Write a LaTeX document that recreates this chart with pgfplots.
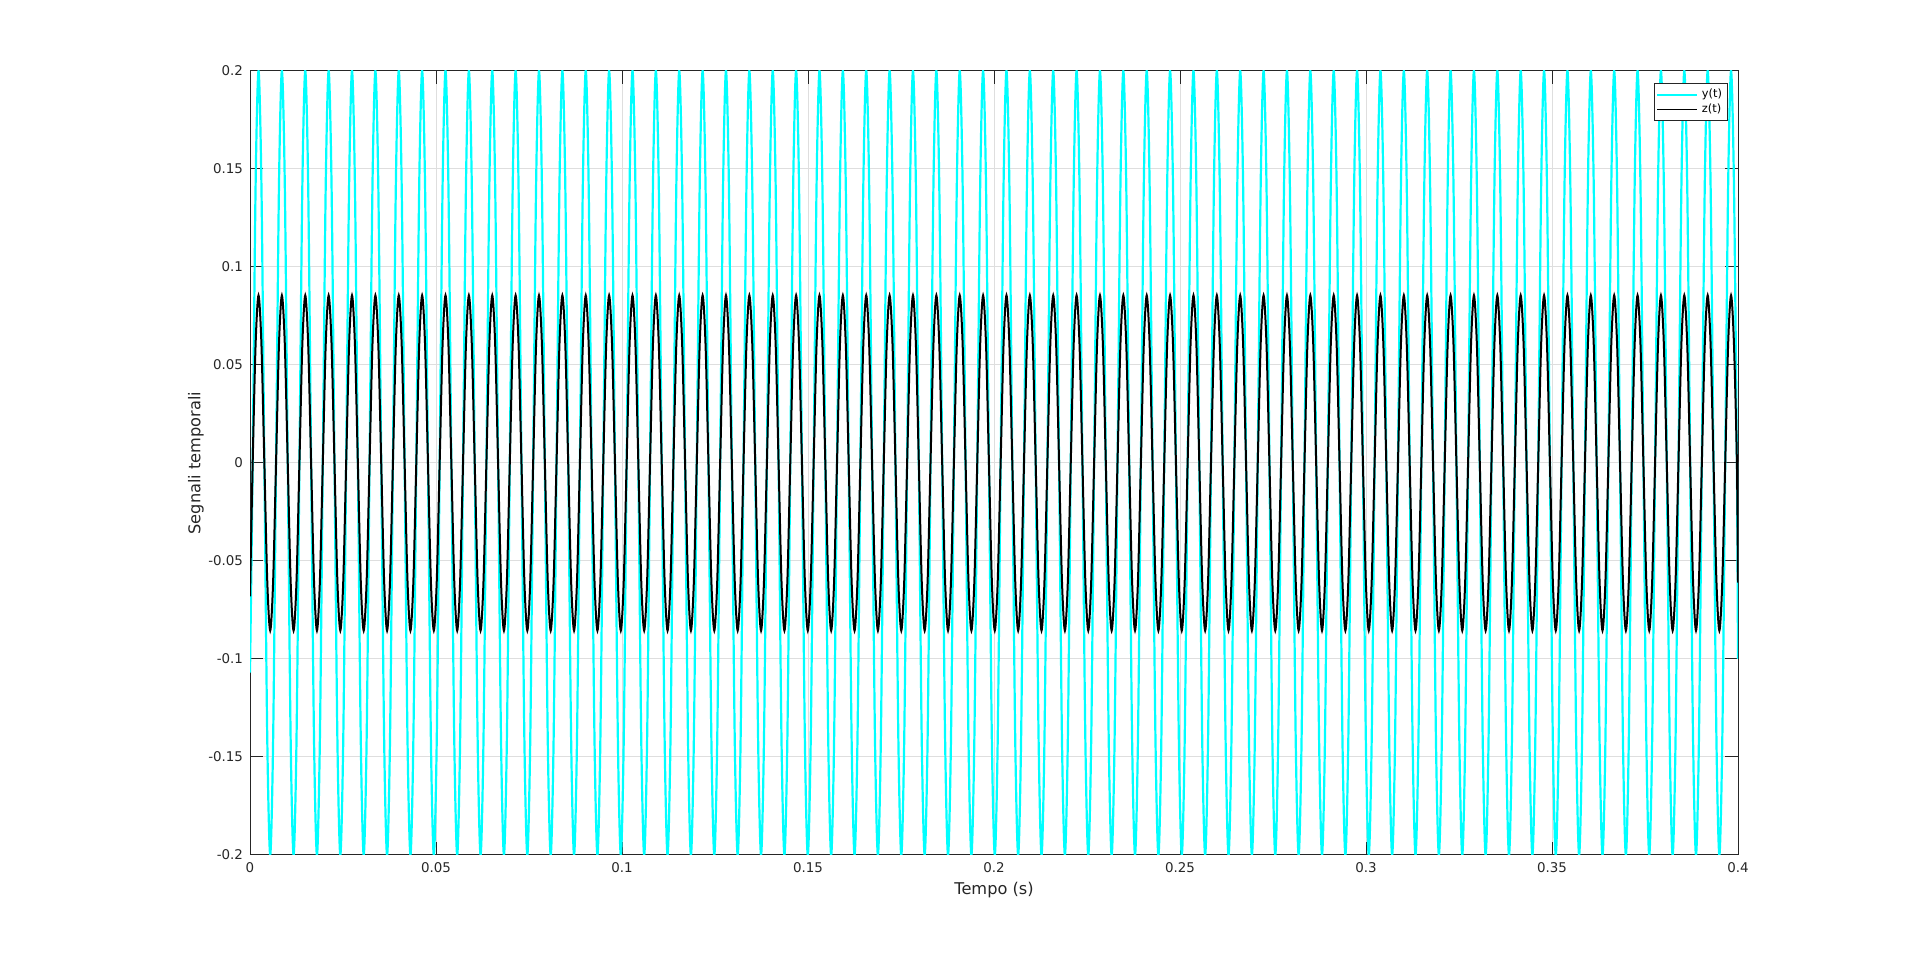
\documentclass[border=0pt]{standalone}
\usepackage{fontspec}
\setmainfont{DejaVu Sans}
\usepackage{pgfplots}
\usepackage{pgfplotstable}
\pgfplotsset{compat=1.18}
\definecolor{mcyan}{rgb}{0,1,1}
\definecolor{gridc}{rgb}{0.87,0.87,0.87}
\definecolor{axc}{rgb}{0.15,0.15,0.15}
\pgfplotstableread[row sep=\\]{
t y z\\
0 -0.107 -0.068\\
0.000719 0 0\\ 0.001505 0.1414 0.0605\\ 0.002290 0.2 0.0855\\ 0.003075 0.1414 0.0605\\ 0.003861 0 0\\ 0.004646 -0.1414 -0.0605\\ 0.005432 -0.2 -0.0855\\ 0.006217 -0.1414 -0.0605\\
0.007002 0 0\\ 0.007788 0.1414 0.0605\\ 0.008573 0.2 0.0855\\ 0.009359 0.1414 0.0605\\ 0.010144 0 0\\ 0.010929 -0.1414 -0.0605\\ 0.011715 -0.2 -0.0855\\ 0.012500 -0.1414 -0.0605\\
0.013286 0 0\\ 0.014071 0.1414 0.0605\\ 0.014856 0.2 0.0855\\ 0.015642 0.1414 0.0605\\ 0.016427 0 0\\ 0.017213 -0.1414 -0.0605\\ 0.017998 -0.2 -0.0855\\ 0.018783 -0.1414 -0.0605\\
0.019569 0 0\\ 0.020354 0.1414 0.0605\\ 0.021140 0.2 0.0855\\ 0.021925 0.1414 0.0605\\ 0.022710 0 0\\ 0.023496 -0.1414 -0.0605\\ 0.024281 -0.2 -0.0855\\ 0.025067 -0.1414 -0.0605\\
0.025852 0 0\\ 0.026637 0.1414 0.0605\\ 0.027423 0.2 0.0855\\ 0.028208 0.1414 0.0605\\ 0.028994 0 0\\ 0.029779 -0.1414 -0.0605\\ 0.030564 -0.2 -0.0855\\ 0.031350 -0.1414 -0.0605\\
0.032135 0 0\\ 0.032921 0.1414 0.0605\\ 0.033706 0.2 0.0855\\ 0.034491 0.1414 0.0605\\ 0.035277 0 0\\ 0.036062 -0.1414 -0.0605\\ 0.036848 -0.2 -0.0855\\ 0.037633 -0.1414 -0.0605\\
0.038418 0 0\\ 0.039204 0.1414 0.0605\\ 0.039989 0.2 0.0855\\ 0.040775 0.1414 0.0605\\ 0.041560 0 0\\ 0.042345 -0.1414 -0.0605\\ 0.043131 -0.2 -0.0855\\ 0.043916 -0.1414 -0.0605\\
0.044702 0 0\\ 0.045487 0.1414 0.0605\\ 0.046272 0.2 0.0855\\ 0.047058 0.1414 0.0605\\ 0.047843 0 0\\ 0.048629 -0.1414 -0.0605\\ 0.049414 -0.2 -0.0855\\ 0.050199 -0.1414 -0.0605\\
0.050985 0 0\\ 0.051770 0.1414 0.0605\\ 0.052556 0.2 0.0855\\ 0.053341 0.1414 0.0605\\ 0.054126 0 0\\ 0.054912 -0.1414 -0.0605\\ 0.055697 -0.2 -0.0855\\ 0.056483 -0.1414 -0.0605\\
0.057268 0 0\\ 0.058053 0.1414 0.0605\\ 0.058839 0.2 0.0855\\ 0.059624 0.1414 0.0605\\ 0.060410 0 0\\ 0.061195 -0.1414 -0.0605\\ 0.061980 -0.2 -0.0855\\ 0.062766 -0.1414 -0.0605\\
0.063551 0 0\\ 0.064337 0.1414 0.0605\\ 0.065122 0.2 0.0855\\ 0.065907 0.1414 0.0605\\ 0.066693 0 0\\ 0.067478 -0.1414 -0.0605\\ 0.068264 -0.2 -0.0855\\ 0.069049 -0.1414 -0.0605\\
0.069834 0 0\\ 0.070620 0.1414 0.0605\\ 0.071405 0.2 0.0855\\ 0.072191 0.1414 0.0605\\ 0.072976 0 0\\ 0.073761 -0.1414 -0.0605\\ 0.074547 -0.2 -0.0855\\ 0.075332 -0.1414 -0.0605\\
0.076118 0 0\\ 0.076903 0.1414 0.0605\\ 0.077688 0.2 0.0855\\ 0.078474 0.1414 0.0605\\ 0.079259 0 0\\ 0.080045 -0.1414 -0.0605\\ 0.080830 -0.2 -0.0855\\ 0.081615 -0.1414 -0.0605\\
0.082401 0 0\\ 0.083186 0.1414 0.0605\\ 0.083972 0.2 0.0855\\ 0.084757 0.1414 0.0605\\ 0.085542 0 0\\ 0.086328 -0.1414 -0.0605\\ 0.087113 -0.2 -0.0855\\ 0.087899 -0.1414 -0.0605\\
0.088684 0 0\\ 0.089469 0.1414 0.0605\\ 0.090255 0.2 0.0855\\ 0.091040 0.1414 0.0605\\ 0.091826 0 0\\ 0.092611 -0.1414 -0.0605\\ 0.093396 -0.2 -0.0855\\ 0.094182 -0.1414 -0.0605\\
0.094967 0 0\\ 0.095753 0.1414 0.0605\\ 0.096538 0.2 0.0855\\ 0.097323 0.1414 0.0605\\ 0.098109 0 0\\ 0.098894 -0.1414 -0.0605\\ 0.099680 -0.2 -0.0855\\ 0.100465 -0.1414 -0.0605\\
0.101250 0 0\\ 0.102036 0.1414 0.0605\\ 0.102821 0.2 0.0855\\ 0.103607 0.1414 0.0605\\ 0.104392 0 0\\ 0.105177 -0.1414 -0.0605\\ 0.105963 -0.2 -0.0855\\ 0.106748 -0.1414 -0.0605\\
0.107534 0 0\\ 0.108319 0.1414 0.0605\\ 0.109104 0.2 0.0855\\ 0.109890 0.1414 0.0605\\ 0.110675 0 0\\ 0.111461 -0.1414 -0.0605\\ 0.112246 -0.2 -0.0855\\ 0.113031 -0.1414 -0.0605\\
0.113817 0 0\\ 0.114602 0.1414 0.0605\\ 0.115388 0.2 0.0855\\ 0.116173 0.1414 0.0605\\ 0.116958 0 0\\ 0.117744 -0.1414 -0.0605\\ 0.118529 -0.2 -0.0855\\ 0.119315 -0.1414 -0.0605\\
0.120100 0 0\\ 0.120885 0.1414 0.0605\\ 0.121671 0.2 0.0855\\ 0.122456 0.1414 0.0605\\ 0.123242 0 0\\ 0.124027 -0.1414 -0.0605\\ 0.124812 -0.2 -0.0855\\ 0.125598 -0.1414 -0.0605\\
0.126383 0 0\\ 0.127169 0.1414 0.0605\\ 0.127954 0.2 0.0855\\ 0.128739 0.1414 0.0605\\ 0.129525 0 0\\ 0.130310 -0.1414 -0.0605\\ 0.131096 -0.2 -0.0855\\ 0.131881 -0.1414 -0.0605\\
0.132666 0 0\\ 0.133452 0.1414 0.0605\\ 0.134237 0.2 0.0855\\ 0.135023 0.1414 0.0605\\ 0.135808 0 0\\ 0.136593 -0.1414 -0.0605\\ 0.137379 -0.2 -0.0855\\ 0.138164 -0.1414 -0.0605\\
0.138950 0 0\\ 0.139735 0.1414 0.0605\\ 0.140520 0.2 0.0855\\ 0.141306 0.1414 0.0605\\ 0.142091 0 0\\ 0.142877 -0.1414 -0.0605\\ 0.143662 -0.2 -0.0855\\ 0.144447 -0.1414 -0.0605\\
0.145233 0 0\\ 0.146018 0.1414 0.0605\\ 0.146804 0.2 0.0855\\ 0.147589 0.1414 0.0605\\ 0.148374 0 0\\ 0.149160 -0.1414 -0.0605\\ 0.149945 -0.2 -0.0855\\ 0.150731 -0.1414 -0.0605\\
0.151516 0 0\\ 0.152301 0.1414 0.0605\\ 0.153087 0.2 0.0855\\ 0.153872 0.1414 0.0605\\ 0.154658 0 0\\ 0.155443 -0.1414 -0.0605\\ 0.156228 -0.2 -0.0855\\ 0.157014 -0.1414 -0.0605\\
0.157799 0 0\\ 0.158585 0.1414 0.0605\\ 0.159370 0.2 0.0855\\ 0.160155 0.1414 0.0605\\ 0.160941 0 0\\ 0.161726 -0.1414 -0.0605\\ 0.162512 -0.2 -0.0855\\ 0.163297 -0.1414 -0.0605\\
0.164082 0 0\\ 0.164868 0.1414 0.0605\\ 0.165653 0.2 0.0855\\ 0.166439 0.1414 0.0605\\ 0.167224 0 0\\ 0.168009 -0.1414 -0.0605\\ 0.168795 -0.2 -0.0855\\ 0.169580 -0.1414 -0.0605\\
0.170366 0 0\\ 0.171151 0.1414 0.0605\\ 0.171936 0.2 0.0855\\ 0.172722 0.1414 0.0605\\ 0.173507 0 0\\ 0.174293 -0.1414 -0.0605\\ 0.175078 -0.2 -0.0855\\ 0.175863 -0.1414 -0.0605\\
0.176649 0 0\\ 0.177434 0.1414 0.0605\\ 0.178220 0.2 0.0855\\ 0.179005 0.1414 0.0605\\ 0.179790 0 0\\ 0.180576 -0.1414 -0.0605\\ 0.181361 -0.2 -0.0855\\ 0.182147 -0.1414 -0.0605\\
0.182932 0 0\\ 0.183717 0.1414 0.0605\\ 0.184503 0.2 0.0855\\ 0.185288 0.1414 0.0605\\ 0.186074 0 0\\ 0.186859 -0.1414 -0.0605\\ 0.187644 -0.2 -0.0855\\ 0.188430 -0.1414 -0.0605\\
0.189215 0 0\\ 0.190001 0.1414 0.0605\\ 0.190786 0.2 0.0855\\ 0.191571 0.1414 0.0605\\ 0.192357 0 0\\ 0.193142 -0.1414 -0.0605\\ 0.193928 -0.2 -0.0855\\ 0.194713 -0.1414 -0.0605\\
0.195498 0 0\\ 0.196284 0.1414 0.0605\\ 0.197069 0.2 0.0855\\ 0.197855 0.1414 0.0605\\ 0.198640 0 0\\ 0.199425 -0.1414 -0.0605\\ 0.200211 -0.2 -0.0855\\ 0.200996 -0.1414 -0.0605\\
0.201782 0 0\\ 0.202567 0.1414 0.0605\\ 0.203352 0.2 0.0855\\ 0.204138 0.1414 0.0605\\ 0.204923 0 0\\ 0.205709 -0.1414 -0.0605\\ 0.206494 -0.2 -0.0855\\ 0.207279 -0.1414 -0.0605\\
0.208065 0 0\\ 0.208850 0.1414 0.0605\\ 0.209636 0.2 0.0855\\ 0.210421 0.1414 0.0605\\ 0.211206 0 0\\ 0.211992 -0.1414 -0.0605\\ 0.212777 -0.2 -0.0855\\ 0.213563 -0.1414 -0.0605\\
0.214348 0 0\\ 0.215133 0.1414 0.0605\\ 0.215919 0.2 0.0855\\ 0.216704 0.1414 0.0605\\ 0.217490 0 0\\ 0.218275 -0.1414 -0.0605\\ 0.219060 -0.2 -0.0855\\ 0.219846 -0.1414 -0.0605\\
0.220631 0 0\\ 0.221417 0.1414 0.0605\\ 0.222202 0.2 0.0855\\ 0.222987 0.1414 0.0605\\ 0.223773 0 0\\ 0.224558 -0.1414 -0.0605\\ 0.225344 -0.2 -0.0855\\ 0.226129 -0.1414 -0.0605\\
0.226914 0 0\\ 0.227700 0.1414 0.0605\\ 0.228485 0.2 0.0855\\ 0.229271 0.1414 0.0605\\ 0.230056 0 0\\ 0.230841 -0.1414 -0.0605\\ 0.231627 -0.2 -0.0855\\ 0.232412 -0.1414 -0.0605\\
0.233198 0 0\\ 0.233983 0.1414 0.0605\\ 0.234768 0.2 0.0855\\ 0.235554 0.1414 0.0605\\ 0.236339 0 0\\ 0.237125 -0.1414 -0.0605\\ 0.237910 -0.2 -0.0855\\ 0.238695 -0.1414 -0.0605\\
0.239481 0 0\\ 0.240266 0.1414 0.0605\\ 0.241052 0.2 0.0855\\ 0.241837 0.1414 0.0605\\ 0.242622 0 0\\ 0.243408 -0.1414 -0.0605\\ 0.244193 -0.2 -0.0855\\ 0.244979 -0.1414 -0.0605\\
0.245764 0 0\\ 0.246549 0.1414 0.0605\\ 0.247335 0.2 0.0855\\ 0.248120 0.1414 0.0605\\ 0.248906 0 0\\ 0.249691 -0.1414 -0.0605\\ 0.250476 -0.2 -0.0855\\ 0.251262 -0.1414 -0.0605\\
0.252047 0 0\\ 0.252833 0.1414 0.0605\\ 0.253618 0.2 0.0855\\ 0.254403 0.1414 0.0605\\ 0.255189 0 0\\ 0.255974 -0.1414 -0.0605\\ 0.256760 -0.2 -0.0855\\ 0.257545 -0.1414 -0.0605\\
0.258330 0 0\\ 0.259116 0.1414 0.0605\\ 0.259901 0.2 0.0855\\ 0.260687 0.1414 0.0605\\ 0.261472 0 0\\ 0.262257 -0.1414 -0.0605\\ 0.263043 -0.2 -0.0855\\ 0.263828 -0.1414 -0.0605\\
0.264614 0 0\\ 0.265399 0.1414 0.0605\\ 0.266184 0.2 0.0855\\ 0.266970 0.1414 0.0605\\ 0.267755 0 0\\ 0.268541 -0.1414 -0.0605\\ 0.269326 -0.2 -0.0855\\ 0.270111 -0.1414 -0.0605\\
0.270897 0 0\\ 0.271682 0.1414 0.0605\\ 0.272468 0.2 0.0855\\ 0.273253 0.1414 0.0605\\ 0.274038 0 0\\ 0.274824 -0.1414 -0.0605\\ 0.275609 -0.2 -0.0855\\ 0.276395 -0.1414 -0.0605\\
0.277180 0 0\\ 0.277965 0.1414 0.0605\\ 0.278751 0.2 0.0855\\ 0.279536 0.1414 0.0605\\ 0.280322 0 0\\ 0.281107 -0.1414 -0.0605\\ 0.281892 -0.2 -0.0855\\ 0.282678 -0.1414 -0.0605\\
0.283463 0 0\\ 0.284249 0.1414 0.0605\\ 0.285034 0.2 0.0855\\ 0.285819 0.1414 0.0605\\ 0.286605 0 0\\ 0.287390 -0.1414 -0.0605\\ 0.288176 -0.2 -0.0855\\ 0.288961 -0.1414 -0.0605\\
0.289746 0 0\\ 0.290532 0.1414 0.0605\\ 0.291317 0.2 0.0855\\ 0.292103 0.1414 0.0605\\ 0.292888 0 0\\ 0.293673 -0.1414 -0.0605\\ 0.294459 -0.2 -0.0855\\ 0.295244 -0.1414 -0.0605\\
0.296030 0 0\\ 0.296815 0.1414 0.0605\\ 0.297600 0.2 0.0855\\ 0.298386 0.1414 0.0605\\ 0.299171 0 0\\ 0.299957 -0.1414 -0.0605\\ 0.300742 -0.2 -0.0855\\ 0.301527 -0.1414 -0.0605\\
0.302313 0 0\\ 0.303098 0.1414 0.0605\\ 0.303884 0.2 0.0855\\ 0.304669 0.1414 0.0605\\ 0.305454 0 0\\ 0.306240 -0.1414 -0.0605\\ 0.307025 -0.2 -0.0855\\ 0.307811 -0.1414 -0.0605\\
0.308596 0 0\\ 0.309381 0.1414 0.0605\\ 0.310167 0.2 0.0855\\ 0.310952 0.1414 0.0605\\ 0.311738 0 0\\ 0.312523 -0.1414 -0.0605\\ 0.313308 -0.2 -0.0855\\ 0.314094 -0.1414 -0.0605\\
0.314879 0 0\\ 0.315665 0.1414 0.0605\\ 0.316450 0.2 0.0855\\ 0.317235 0.1414 0.0605\\ 0.318021 0 0\\ 0.318806 -0.1414 -0.0605\\ 0.319592 -0.2 -0.0855\\ 0.320377 -0.1414 -0.0605\\
0.321162 0 0\\ 0.321948 0.1414 0.0605\\ 0.322733 0.2 0.0855\\ 0.323519 0.1414 0.0605\\ 0.324304 0 0\\ 0.325089 -0.1414 -0.0605\\ 0.325875 -0.2 -0.0855\\ 0.326660 -0.1414 -0.0605\\
0.327446 0 0\\ 0.328231 0.1414 0.0605\\ 0.329016 0.2 0.0855\\ 0.329802 0.1414 0.0605\\ 0.330587 0 0\\ 0.331373 -0.1414 -0.0605\\ 0.332158 -0.2 -0.0855\\ 0.332943 -0.1414 -0.0605\\
0.333729 0 0\\ 0.334514 0.1414 0.0605\\ 0.335300 0.2 0.0855\\ 0.336085 0.1414 0.0605\\ 0.336870 0 0\\ 0.337656 -0.1414 -0.0605\\ 0.338441 -0.2 -0.0855\\ 0.339227 -0.1414 -0.0605\\
0.340012 0 0\\ 0.340797 0.1414 0.0605\\ 0.341583 0.2 0.0855\\ 0.342368 0.1414 0.0605\\ 0.343154 0 0\\ 0.343939 -0.1414 -0.0605\\ 0.344724 -0.2 -0.0855\\ 0.345510 -0.1414 -0.0605\\
0.346295 0 0\\ 0.347081 0.1414 0.0605\\ 0.347866 0.2 0.0855\\ 0.348651 0.1414 0.0605\\ 0.349437 0 0\\ 0.350222 -0.1414 -0.0605\\ 0.351008 -0.2 -0.0855\\ 0.351793 -0.1414 -0.0605\\
0.352578 0 0\\ 0.353364 0.1414 0.0605\\ 0.354149 0.2 0.0855\\ 0.354935 0.1414 0.0605\\ 0.355720 0 0\\ 0.356505 -0.1414 -0.0605\\ 0.357291 -0.2 -0.0855\\ 0.358076 -0.1414 -0.0605\\
0.358862 0 0\\ 0.359647 0.1414 0.0605\\ 0.360432 0.2 0.0855\\ 0.361218 0.1414 0.0605\\ 0.362003 0 0\\ 0.362789 -0.1414 -0.0605\\ 0.363574 -0.2 -0.0855\\ 0.364359 -0.1414 -0.0605\\
0.365145 0 0\\ 0.365930 0.1414 0.0605\\ 0.366716 0.2 0.0855\\ 0.367501 0.1414 0.0605\\ 0.368286 0 0\\ 0.369072 -0.1414 -0.0605\\ 0.369857 -0.2 -0.0855\\ 0.370643 -0.1414 -0.0605\\
0.371428 0 0\\ 0.372213 0.1414 0.0605\\ 0.372999 0.2 0.0855\\ 0.373784 0.1414 0.0605\\ 0.374570 0 0\\ 0.375355 -0.1414 -0.0605\\ 0.376140 -0.2 -0.0855\\ 0.376926 -0.1414 -0.0605\\
0.377711 0 0\\ 0.378497 0.1414 0.0605\\ 0.379282 0.2 0.0855\\ 0.380067 0.1414 0.0605\\ 0.380853 0 0\\ 0.381638 -0.1414 -0.0605\\ 0.382424 -0.2 -0.0855\\ 0.383209 -0.1414 -0.0605\\
0.383994 0 0\\ 0.384780 0.1414 0.0605\\ 0.385565 0.2 0.0855\\ 0.386351 0.1414 0.0605\\ 0.387136 0 0\\ 0.387921 -0.1414 -0.0605\\ 0.388707 -0.2 -0.0855\\ 0.389492 -0.1414 -0.0605\\
0.390278 0 0\\ 0.391063 0.1414 0.0605\\ 0.391848 0.2 0.0855\\ 0.392634 0.1414 0.0605\\ 0.393419 0 0\\ 0.394205 -0.1414 -0.0605\\ 0.394990 -0.2 -0.0855\\ 0.395775 -0.1414 -0.0605\\
0.396561 0 0\\ 0.397346 0.1414 0.0605\\ 0.398132 0.2 0.0855\\ 0.398917 0.1414 0.0605\\ 0.399702 0 0\\
0.4 -0.100 -0.061\\
}\data
\begin{document}
\begin{tikzpicture}
\begin{axis}[name=ax, scale only axis, width=744pt, height=392pt,
  xmin=0, xmax=0.4, ymin=-0.2, ymax=0.2,
  xtick={0,0.05,0.1,0.15,0.2,0.25,0.3,0.35,0.4},
  xticklabels={0,0.05,0.1,0.15,0.2,0.25,0.3,0.35,0.4},
  ytick={-0.2,-0.15,-0.1,-0.05,0,0.05,0.1,0.15,0.2},
  yticklabels={-0.2,-0.15,-0.1,-0.05,0,0.05,0.1,0.15,0.2},
  tick align=inside, major tick length=6.5pt,
  tick style={axc, line width=0.5pt},
  axis line style={axc, line width=0.5pt},
  grid=major, major grid style={gridc, line width=0.5pt},
  ticklabel style={font=\fontsize{6.7}{8}\selectfont, text=axc},
  xlabel={Tempo (s)}, ylabel={Segnali temporali},
  label style={font=\fontsize{8.1}{9.5}\selectfont, text=axc},
  xlabel style={at={(axis description cs:0.5,-0.0445)}, anchor=center},
  ylabel style={at={(axis description cs:-0.0363,0.5)}, anchor=center},
  legend style={at={(axis description cs:1,1)}, anchor=north east, xshift=-5pt, yshift=-6pt,
    draw=axc, line width=0.4pt, fill=white, font=\fontsize{5.7}{6.5}\selectfont,
    inner sep=0.8pt, row sep=-2.5pt, cells={anchor=west}},
  legend image code/.code={\draw[#1, line width=0.8pt] (0pt,0pt) -- (20pt,0pt);},
  clip=true,
]
\addplot[mcyan, line width=1.1pt, smooth] table[x=t, y=y] {\data};
\addlegendentry{y(t)}
\addplot[black, line width=1pt, smooth] table[x=t, y=z] {\data};
\addlegendentry{z(t)}
\end{axis}
\pgfresetboundingbox
\path ([shift={(-125pt,-53pt)}]ax.south west) rectangle ([shift={(91pt,35.5pt)}]ax.north east);
\end{tikzpicture}
\end{document}
